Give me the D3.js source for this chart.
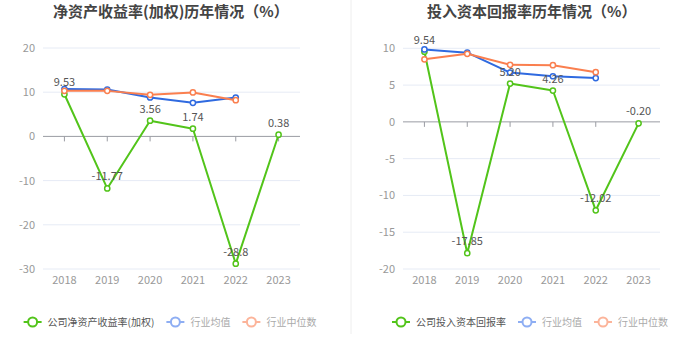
<!DOCTYPE html>
<html><head><meta charset="utf-8">
<script src="https://cdn.jsdelivr.net/npm/d3@7/dist/d3.min.js"></script>
<style>
html,body{margin:0;padding:0;background:#fff;}
svg{display:block;font-family:"Noto Sans CJK SC","Noto Sans",sans-serif;}
</style></head><body>
<svg id="c" width="699" height="359"></svg>
<script>
const years = ["2018","2019","2020","2021","2022","2023"];

// Left: ROE (weighted)
const roeTitle = "净资产收益率(加权)历年情况（%）";
const roeCompany = [9.53, -11.77, 3.56, 1.74, -28.8, 0.38];
const roeCompanyLabels = ["9.53","-11.77","3.56","1.74","-28.8","0.38"];
const roeMean = [10.7, 10.6, 8.8, 7.6, 8.8, null];
const roeMedian = [10.3, 10.3, 9.4, 9.95, 8.2, null];
const roeTicks = [20, 10, 0, -10, -20, -30];
const roeLegend = ["公司净资产收益率(加权)", "行业均值", "行业中位数"];

// Right: ROIC
const roicTitle = "投入资本回报率历年情况（%）";
const roicCompany = [9.54, -17.85, 5.20, 4.26, -12.02, -0.20];
const roicCompanyLabels = ["9.54","-17.85","5.20","4.26","-12.02","-0.20"];
const roicMean = [9.85, 9.4, 6.7, 6.2, 5.95, null];
const roicMedian = [8.5, 9.25, 7.75, 7.7, 6.75, null];
const roicTicks = [10, 5, 0, -5, -10, -15, -20];
const roicLegend = ["公司投入资本回报率", "行业均值", "行业中位数"];

const svg = d3.select("#c");
const C_GREEN = "#52c41a", C_BLUE = "#2f6ae0", C_ORANGE = "#fa7f4f";
const L_BLUE = "#8eaef3", L_ORANGE = "#fcb49a";

// separator
svg.append("line").attr("x1",351).attr("x2",351).attr("y1",0).attr("y2",334)
  .attr("stroke","#eeeeee").attr("stroke-width",1);

function drawChart(o){
  const g = svg.append("g");
  const x = d3.scaleBand().domain(years).range([o.x0, o.x1]).padding(0);
  const y = d3.scaleLinear().domain(o.domain).range([o.yBottom, o.yTop]);
  const cx = d => x(d) + x.bandwidth()/2;

  // title
  g.append("text").attr("x", o.titleX).attr("y", 17).attr("text-anchor","start")
    .attr("font-size",15).attr("font-weight","bold").attr("fill","#444").text(o.title);

  // grid
  g.append("g").selectAll("line").data(o.ticks.filter(t=>t!==0)).join("line")
    .attr("x1",o.x0).attr("x2",o.x1).attr("y1",d=>y(d)).attr("y2",d=>y(d))
    .attr("stroke","#e6ebf5").attr("stroke-width",1);
  // y labels
  g.append("g").selectAll("text").data(o.ticks).join("text")
    .attr("x",o.x0-8).attr("y",d=>y(d)+4).attr("text-anchor","end")
    .attr("font-size",11).attr("fill","#999").text(d=>d);
  // zero axis
  g.append("line").attr("x1",o.x0).attr("x2",o.x1).attr("y1",y(0)).attr("y2",y(0))
    .attr("stroke","#9a9ca3").attr("stroke-width",1);
  g.append("g").selectAll("line").data(years).join("line")
    .attr("x1",d=>cx(d)).attr("x2",d=>cx(d)).attr("y1",y(0)).attr("y2",y(0)+5)
    .attr("stroke","#9a9ca3").attr("stroke-width",1);
  // x labels
  g.append("g").selectAll("text").data(years).join("text")
    .attr("x",d=>cx(d)).attr("y",o.yBottom+14.5).attr("text-anchor","middle")
    .attr("font-size",11).attr("fill","#999").text(d=>d);

  const line = d3.line().defined(d=>d.v!==null).x(d=>cx(d.k)).y(d=>y(d.v));
  const series = [
    {vals:o.company, color:C_GREEN},
    {vals:o.mean, color:C_BLUE},
    {vals:o.median, color:C_ORANGE}
  ];
  series.forEach(s=>{
    const pts = years.map((k,i)=>({k, v:s.vals[i]}));
    g.append("path").datum(pts).attr("d",line).attr("fill","none")
      .attr("stroke",s.color).attr("stroke-width",2).attr("stroke-linejoin","round");
    g.append("g").selectAll("circle").data(pts.filter(d=>d.v!==null)).join("circle")
      .attr("cx",d=>cx(d.k)).attr("cy",d=>y(d.v)).attr("r",2.6)
      .attr("fill","#fff").attr("stroke",s.color).attr("stroke-width",1.5);
  });
  // labels
  g.append("g").selectAll("text").data(years).join("text")
    .attr("x",d=>cx(d)).attr("y",(d,i)=>y(o.company[i])-8).attr("text-anchor","middle")
    .attr("font-size",11).attr("fill","#555").text((d,i)=>o.labels[i]);

  // legend
  const lg = g.append("g");
  const cols = [C_GREEN, L_BLUE, L_ORANGE];
  const tcols = ["#555", "#aaa", "#aaa"];
  let cur = 0;
  o.legend.forEach((name,i)=>{
    const it = lg.append("g").attr("transform",`translate(${cur},0)`);
    it.append("line").attr("x1",0).attr("x2",18).attr("y1",0).attr("y2",0)
      .attr("stroke",cols[i]).attr("stroke-width",2);
    it.append("circle").attr("cx",9).attr("cy",0).attr("r",4.5)
      .attr("fill","#fff").attr("stroke",cols[i]).attr("stroke-width",2);
    const t = it.append("text").attr("x",24).attr("y",3.8).attr("font-size",10)
      .attr("fill",tcols[i]).text(name);
    const w = t.node().getComputedTextLength();
    cur += 24 + w + 12;
  });
  const total = cur - 12;
  lg.attr("transform",`translate(${o.legendCenter - total/2},322)`);
}

drawChart({title:roeTitle, titleX:53, x0:43, x1:300, domain:[-30,20], yBottom:269, yTop:48,
  ticks:roeTicks, company:roeCompany, labels:roeCompanyLabels, mean:roeMean, median:roeMedian,
  legend:roeLegend, legendCenter:170});
drawChart({title:roicTitle, titleX:427, x0:403, x1:660, domain:[-20,10], yBottom:269, yTop:48.3,
  ticks:roicTicks, company:roicCompany, labels:roicCompanyLabels, mean:roicMean, median:roicMedian,
  legend:roicLegend, legendCenter:530});
</script>
</body></html>
